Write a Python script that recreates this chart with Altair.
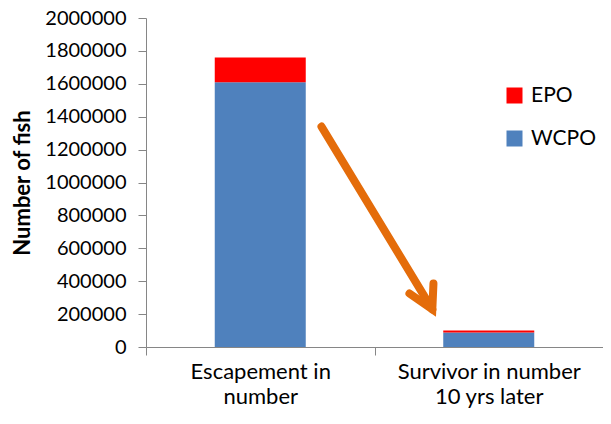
import altair as alt
import pandas as pd

categories = ["Escapement in|number", "Survivor in number|10 yrs later"]
series = ["WCPO", "EPO"]
wcpo_values = [1610000, 88000]
epo_values = [150000, 12000]
colors = ["#FF0000", "#4F81BD"]

# arrow annotation (data units: x on a 0..2 category span, y in fish)
arrow_group = ["shaft", "shaft", "head", "head", "head"]
arrow_order = [0, 1, 0, 1, 2]
arrow_x = [0.768, 1.253, 1.153, 1.253, 1.258]
arrow_y = [1340000, 229000, 325000, 229000, 385500]

rows = []
for i, c in enumerate(categories):
    rows.append({"cat": c, "series": "WCPO", "value": wcpo_values[i], "ord": 0})
    rows.append({"cat": c, "series": "EPO", "value": epo_values[i], "ord": 1})
df = pd.DataFrame(rows)

adf = pd.DataFrame({"g": arrow_group, "o": arrow_order, "ax": arrow_x, "ay": arrow_y})

FONT = "Lato"

y_enc = alt.Y("value:Q", stack="zero", title="Number of fish",
              scale=alt.Scale(domain=[0, 2000000], nice=False),
              axis=alt.Axis(values=list(range(0, 2000001, 200000)), format="d",
                            labelFontSize=20, labelFont=FONT, labelColor="#000000",
                            labelOverlap=False, labelFlush=False,
                            tickSize=8, labelPadding=12, domainColor="#868686", tickColor="#868686",
                            titleFont=FONT, titleFontSize=22, titleFontWeight="bold", titleColor="#000000",
                            titlePadding=10, grid=False))

bars = alt.Chart(df).mark_bar(size=91).encode(
    x=alt.X("cat:N", sort=categories, title=None,
            scale=alt.Scale(paddingInner=0, paddingOuter=0),
            axis=alt.Axis(labelAngle=0, tickBand="extent", labelExpr="split(datum.label, '|')",
                          labelFontSize=22, labelLineHeight=25, labelFont=FONT, labelColor="#000000",
                          labelLimit=400, labelOverlap=False,
                          labelPadding=6, tickSize=8, domainColor="#868686", tickColor="#868686",
                          grid=False)),
    y=y_enc,
    color=alt.Color("series:N", sort=["EPO", "WCPO"],
                    scale=alt.Scale(domain=["EPO", "WCPO"], range=colors),
                    legend=alt.Legend(title=None, orient="none", legendX=358, legendY=67,
                                      symbolType="square", symbolSize=256, symbolStrokeWidth=0,
                                      labelFontSize=21, labelFont=FONT, labelColor="#000000",
                                      rowPadding=21, padding=0, labelOffset=6)),
    order=alt.Order("ord:Q"),
)

arrow = alt.Chart(adf).mark_line(color="#E46C0A", strokeWidth=8, strokeCap="round",
                                 strokeJoin="miter").encode(
    x=alt.X("ax:Q", scale=alt.Scale(domain=[0, 2], nice=False), axis=None),
    y=alt.Y("ay:Q", scale=alt.Scale(domain=[0, 2000000], nice=False), axis=None),
    detail="g:N",
    order="o:Q",
)

chart = alt.layer(bars, arrow).resolve_scale(x="independent", y="independent").properties(
    width=457, height=329,
    autosize=alt.AutoSizeParams(type="none"),
    padding={"left": 138, "top": 10, "right": 0, "bottom": 64},
).configure_view(stroke=None)

chart.save("out.html", embed_options={"renderer": "svg", "actions": False})
